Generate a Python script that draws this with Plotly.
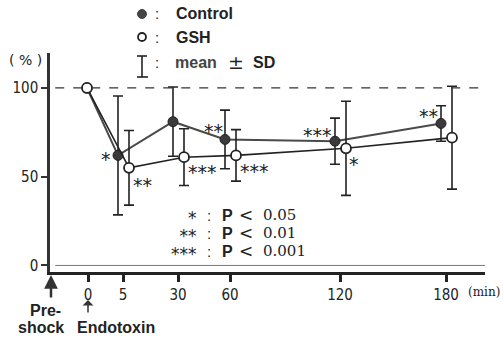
import plotly.graph_objects as go

# ---------------- data ----------------
time_labels = ["0", "5", "30", "60", "120", "180"]
control_mean = [100, 62, 81, 71, 70, 80]
control_sd = [0, 33.5, 19.5, 16.5, 13, 10]
gsh_mean = [100, 55, 61, 62, 66, 72]
gsh_sd = [0, 21, 16, 14.5, 26.5, 29]
y_ticks = [0, 50, 100]
sig_stars = ["*", "**", "***"]
sig_pvals = ["0.05", "0.01", "0.001"]
# significance marks: (series, index, text)
point_marks = [("c", 1, "*"), ("g", 1, "**"), ("g", 2, "***"), ("c", 3, "**"),
               ("g", 3, "***"), ("c", 4, "***"), ("g", 4, "*"), ("c", 5, "**")]

# ---------------- layout helpers ----------------
W, H = 503, 337
L, R, T, B = 50, 485, 53, 272
tick_pos = [0, 35, 90, 142, 252, 358]   # axis positions of time ticks
x_range = [-38, 397]
y_range = [-3.7, 119.7]
off_c, off_g = -5, 6

def px(x):
    return (x - L) / (R - L)

def py(y):
    return (B - y) / (B - T)

ctrl_x = [p + (off_c if i else -1) for i, p in enumerate(tick_pos)]
gsh_x = [p + (off_g if i else -1) for i, p in enumerate(tick_pos)]

fig = go.Figure()
fig.add_trace(go.Scatter(
    x=ctrl_x, y=control_mean, mode="lines+markers",
    line=dict(color="#4a4a4a", width=2),
    marker=dict(size=10, color="#3a3a3a", line=dict(color="#222", width=1)),
    error_y=dict(type="data", array=control_sd, color="#222", thickness=1.6, width=5),
    showlegend=False))
fig.add_trace(go.Scatter(
    x=gsh_x, y=gsh_mean, mode="lines+markers",
    line=dict(color="#222", width=1.6),
    marker=dict(size=10, color="white", line=dict(color="#222", width=1.8)),
    error_y=dict(type="data", array=gsh_sd, color="#222", thickness=1.6, width=5),
    showlegend=False))

shapes = [
    dict(type="line", xref="paper", yref="y", x0=0.012, x1=0.99, y0=100, y1=100,
         line=dict(color="#333", width=1.2, dash="dash")),
    dict(type="line", xref="paper", yref="y", x0=0.012, x1=1.0, y0=0, y1=0,
         line=dict(color="#777", width=1)),
    # legend markers
    dict(type="circle", xref="paper", yref="paper", xsizemode="pixel", ysizemode="pixel",
         xanchor=px(142), yanchor=py(14), x0=-4.5, x1=4.5, y0=-4.5, y1=4.5,
         fillcolor="#444", line=dict(color="#444", width=1)),
    dict(type="circle", xref="paper", yref="paper", xsizemode="pixel", ysizemode="pixel",
         xanchor=px(142), yanchor=py(37), x0=-4, x1=4, y0=-4, y1=4,
         fillcolor="white", line=dict(color="#222", width=1.8)),
    dict(type="line", xref="paper", yref="paper", x0=px(142), x1=px(142), y0=py(56), y1=py(77),
         line=dict(color="#222", width=1.6)),
    dict(type="line", xref="paper", yref="paper", x0=px(137), x1=px(147), y0=py(56), y1=py(56),
         line=dict(color="#222", width=1.6)),
    dict(type="line", xref="paper", yref="paper", x0=px(137), x1=px(148), y0=py(77), y1=py(77),
         line=dict(color="#222", width=1.6)),
]

BOLD = "Liberation Sans"
NUM = "DejaVu Sans Condensed, DejaVu Sans"
SER = "DejaVu Serif"
STAR = "DejaVu Sans"
STAR_SIZE = 19

ann = []

def text(t, x, y, size=16, family=BOLD, xa="center", ya="middle", color="#222", align="center"):
    ann.append(dict(text=t, x=px(x), y=py(y), xref="paper", yref="paper",
                    xanchor=xa, yanchor=ya, showarrow=False, align=align,
                    font=dict(family=family, size=size, color=color)))

def span(t, size):
    return "<span style='font-size:%dpx'>%s</span>" % (size, t)

text("( % )", 25, 60, size=14, family="DejaVu Sans")
# legend
for yy in (14, 37, 62):
    text(":", 157, yy, size=15, family=BOLD)
text("<b>Control</b>", 174, 14, xa="left")
text("<b>GSH</b>", 174, 37, xa="left")
text("<b>mean</b>", 173, 62, xa="left", color="#444")
text("±", 236, 62, size=19, family=SER)
text("<b>SD</b>", 251, 62, xa="left")

# significance legend (one multi-line text per column; base size 14 -> 18px rows)
n = len(sig_stars)
text("<br>".join(span(s, 17) for s in sig_stars), 199, 236, size=14,
     family=STAR, xa="right", align="right")
text("<br>".join(span(":", 15) for _ in range(n)), 209, 233, size=14, family=BOLD)
text("<br>".join(span("<b>P</b>", 16) for _ in range(n)), 220, 233, size=14,
     xa="left", align="left")
text("<br>".join(span("<", 17) for _ in range(n)), 237, 233, size=14,
     family="DejaVu Sans", xa="left", align="left")
text("<br>".join(span(p, 15) for p in sig_pvals), 261, 233, size=14,
     family=SER, xa="left", align="left")

# stars near points
shift = {("c", 1): (-12, 0), ("g", 1): (13, 13), ("g", 2): (18, 11), ("c", 3): (-12, -12),
         ("g", 3): (18, 12), ("c", 4): (-18, -10), ("g", 4): (8, 12), ("c", 5): (-13, -11)}
for s, i, t in point_marks:
    xs = ctrl_x if s == "c" else gsh_x
    ys = control_mean if s == "c" else gsh_mean
    dx, dy = shift[(s, i)]
    ann.append(dict(text=t, x=xs[i], y=ys[i], xref="x", yref="y", showarrow=False,
                    xshift=dx, yshift=-dy - 4,
                    font=dict(family=STAR, size=STAR_SIZE, color="#222")))

# bottom labels
text("<b>Pre-</b>", 45, 310)
text("<b>shock</b>", 41, 327)
text("<b>Endotoxin</b>", 116, 327)
text("(min)", 484, 292, size=12, family=SER)
ann.append(dict(text="", x=px(51), y=py(275), xref="paper", yref="paper",
                ax=0, ay=24, axref="pixel", ayref="pixel", showarrow=True,
                arrowhead=2, arrowsize=1.1, arrowwidth=2.5, arrowcolor="#333"))
ann.append(dict(text="", x=px(88), y=py(300), xref="paper", yref="paper",
                ax=0, ay=14, axref="pixel", ayref="pixel", showarrow=True,
                arrowhead=1, arrowsize=1.2, arrowwidth=1.5, arrowcolor="#333"))

fig.update_layout(
    width=W, height=H,
    margin=dict(l=L, r=W - R, t=T, b=H - B, pad=0),
    paper_bgcolor="white", plot_bgcolor="white",
    shapes=shapes, annotations=ann,
    xaxis=dict(range=x_range, tickvals=tick_pos, ticktext=time_labels,
               showgrid=False, zeroline=False, showline=True, linewidth=3,
               linecolor="#222", ticks="outside", ticklen=7, tickwidth=2.5,
               tickcolor="#222", tickfont=dict(family=NUM, size=15, color="#222")),
    yaxis=dict(range=y_range, tickvals=y_ticks, showgrid=False, zeroline=False,
               showline=True, linewidth=2.5, linecolor="#333", ticks="outside",
               ticklen=6, tickwidth=2, tickcolor="#333",
               tickfont=dict(family=NUM, size=15, color="#222")),
)

fig.write_html("out.html")
